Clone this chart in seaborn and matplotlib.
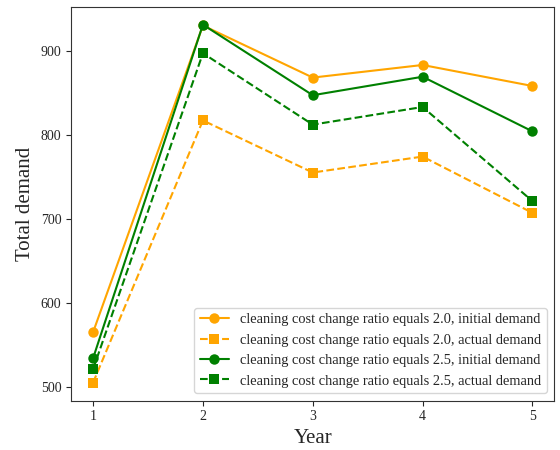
import matplotlib
matplotlib.use("Agg")
import matplotlib.pyplot as plt
import pandas as pd
import seaborn as sns

years = [1, 2, 3, 4, 5]
initial_20 = [565, 930, 868, 883, 858]
actual_20 = [505, 817, 755, 774, 707]
initial_25 = [534, 931, 847, 869, 804]
actual_25 = [521, 897, 812, 833, 721]

series = [
    ("cleaning cost change ratio equals 2.0, initial demand", initial_20, "orange", "o", "-"),
    ("cleaning cost change ratio equals 2.0, actual demand", actual_20, "orange", "s", "--"),
    ("cleaning cost change ratio equals 2.5, initial demand", initial_25, "green", "o", "-"),
    ("cleaning cost change ratio equals 2.5, actual demand", actual_25, "green", "s", "--"),
]

sns.set_style("ticks")
plt.rcParams["font.family"] = ["Liberation Serif", "DejaVu Serif"]

fig, ax = plt.subplots(figsize=(5.6, 4.5), dpi=100)
for label, vals, color, marker, ls in series:
    df = pd.DataFrame({"Year": years, "Demand": vals})
    sns.lineplot(data=df, x="Year", y="Demand", ax=ax, color=color, marker=marker,
                 linestyle=ls, markersize=7.5, markeredgewidth=0, linewidth=1.5, label=label)

ax.set_xticks(years)
ax.set_xlabel("Year", fontsize=15)
ax.set_ylabel("Total demand", fontsize=15)
ax.tick_params(labelsize=10)
ax.legend(loc="lower right", fontsize=10.4)
for s in ax.spines.values():
    s.set_visible(True)
    s.set_color("#333333")

fig.subplots_adjust(left=0.127, right=0.99, top=0.985, bottom=0.11)
fig.savefig("out.png", dpi=100)
